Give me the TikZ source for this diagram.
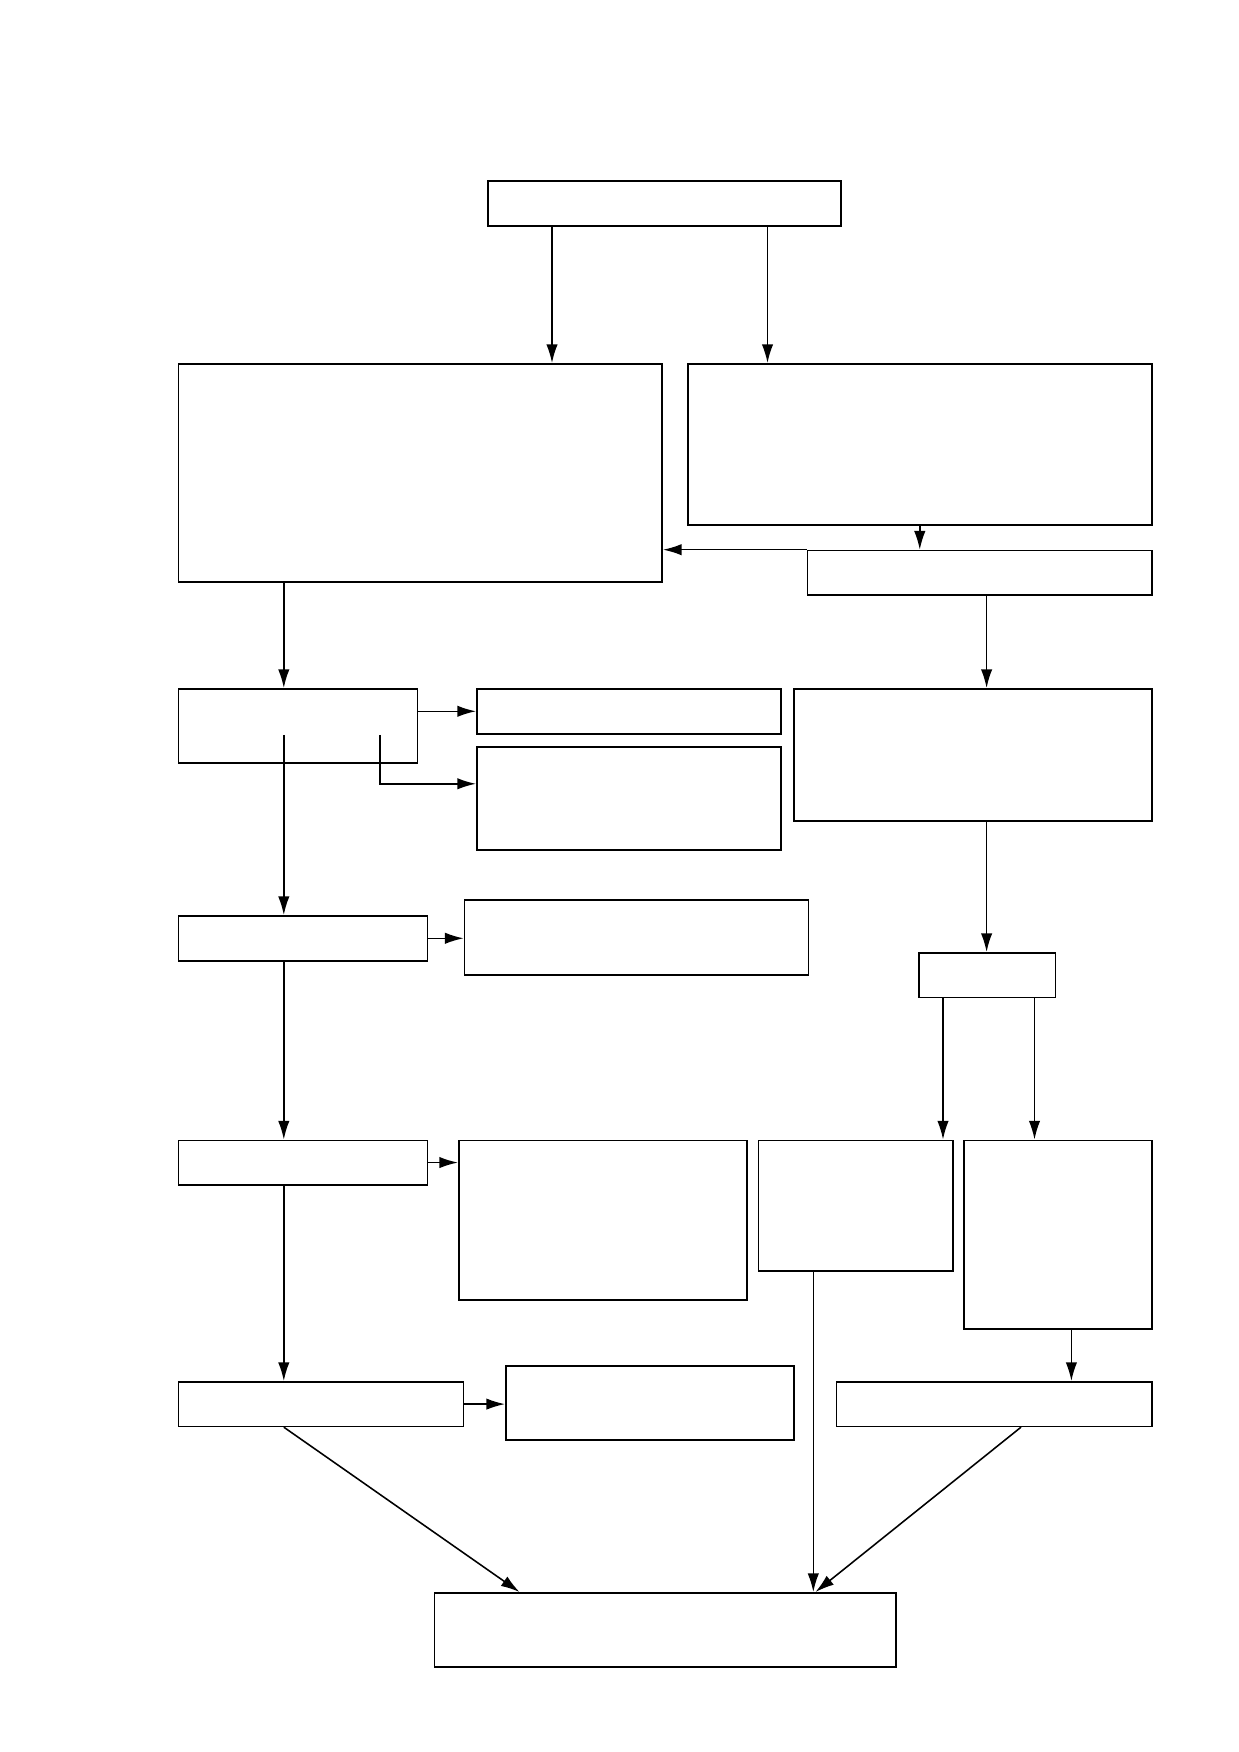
\documentclass[tikz,border=0pt]{standalone}
\usepackage{tikz}
\usetikzlibrary{calc,arrows.meta}

\begin{document}
\begin{tikzpicture}[x = 0.48pt, y = -0.48pt, box/.style = {rectangle, draw, anchor = north west, inner sep = 0pt, line width = .75pt}, arr/.style = {line width = .75pt, -{Latex[length = 9pt, width = 5.5pt]}}]
\useasboundingbox (0,0) rectangle (1239,1752);
\node(top) [box, minimum width = 353*0.48pt, minimum height = 45*0.48pt] at (487,180) {};
\node(bigleft) [box, minimum width = 483.8*0.48pt, minimum height = 218*0.48pt] at (177.6,363) {};
\node(bigright) [box, minimum width = 464*0.48pt, minimum height = 161*0.48pt] at (687,363) {};
\node(rtwo) [box, minimum width = 344.4*0.48pt, minimum height = 44.7*0.48pt] at (806.6,549.7) {};
\node(ltwo) [box, minimum width = 239*0.48pt, minimum height = 74*0.48pt] at (177.6,688) {};
\node(ltwoa) [box, minimum width = 304*0.48pt, minimum height = 45*0.48pt] at (476,688) {};
\node(ltwob) [box, minimum width = 304*0.48pt, minimum height = 103*0.48pt] at (476,746) {};
\node(rthree) [box, minimum width = 358*0.48pt, minimum height = 132*0.48pt] at (793,688) {};
\node(lthree) [box, minimum width = 249*0.48pt, minimum height = 45*0.48pt] at (177.6,915) {};
\node(lthreea) [box, minimum width = 344*0.48pt, minimum height = 75*0.48pt] at (463.6,899) {};
\node(rfour) [box, minimum width = 136.6*0.48pt, minimum height = 44.6*0.48pt] at (918,952) {};
\node(lfour) [box, minimum width = 249*0.48pt, minimum height = 44.5*0.48pt] at (177.6,1139.5) {};
\node(lfoura) [box, minimum width = 288*0.48pt, minimum height = 159.5*0.48pt] at (458,1139.5) {};
\node(rfivea) [box, minimum width = 194.5*0.48pt, minimum height = 130.5*0.48pt] at (757.5,1139.5) {};
\node(rfiveb) [box, minimum width = 188*0.48pt, minimum height = 188.5*0.48pt] at (963,1139.5) {};
\node(lfive) [box, minimum width = 285*0.48pt, minimum height = 44.6*0.48pt] at (177.6,1381) {};
\node(lfivea) [box, minimum width = 288*0.48pt, minimum height = 74*0.48pt] at (505,1365) {};
\node(rsix) [box, minimum width = 315.3*0.48pt, minimum height = 44.6*0.48pt] at (835.7,1381) {};
\node(bottom) [box, minimum width = 461.5*0.48pt, minimum height = 74*0.48pt] at (433.5,1592) {};

\coordinate (spine) at ($(bigleft.south west)+(106.2,0)$);
\coordinate (rspine) at ($(rtwo.south west)+(180,0)$);

\draw[arr] ($(top.south west)+(65,0)$) coordinate (ta) -- (ta |- bigleft.north);
\draw[arr] ($(top.south west)+(280.5,0)$) coordinate (tb) -- (tb |- bigright.north);
\draw[arr] (bigright.south) -- (bigright.south |- rtwo.north);
\draw[arr] (rtwo.north west) -- (rtwo.north west -| bigleft.east);
\draw[arr] (spine) -- (spine |- ltwo.north);
\draw[arr] (rspine) -- (rspine |- rthree.north);
\draw[arr] (ltwo.east |- ltwoa.west) -- (ltwoa.west);
\draw[arr] ($(ltwo.east)+(-38,9)$) |- ($(ltwob.west)+(0,-14.5)$);
\draw[arr] ($(spine |- ltwo.center)+(0,9)$) -- (spine |- lthree.north);
\draw[arr] (rspine |- rthree.south) -- (rspine |- rfour.north);
\draw[arr] (lthree.east) -- (lthree.east -| lthreea.west);
\draw[arr] (spine |- lthree.south) -- (spine |- lfour.north);
\draw[arr] ($(rfour.south west)+(25,0)$) coordinate (ka) -- (ka |- rfivea.north);
\draw[arr] ($(rfour.south west)+(116.5,0)$) coordinate (kb) -- (kb |- rfiveb.north);
\draw[arr] (lfour.east) -- (lfour.east -| lfoura.west);
\draw[arr] (spine |- lfour.south) -- (spine |- lfive.north);
\draw[arr] ($(rfiveb.south west)+(108.4,0)$) coordinate (ob) -- (ob |- rsix.north);
\draw[arr] (lfive.east) -- (lfive.east -| lfivea.west);
\draw[arr] (spine |- lfive.south) -- ($(bottom.north west)+(86,0)$);
\draw[arr] ($(rfivea.south west)+(55.8,0)$) coordinate (na) -- (na |- bottom.north);
\draw[arr] ($(rsix.south west)+(185.3,0)$) -- ($(bottom.north west)+(382,0)$);
\end{tikzpicture}
\end{document}
